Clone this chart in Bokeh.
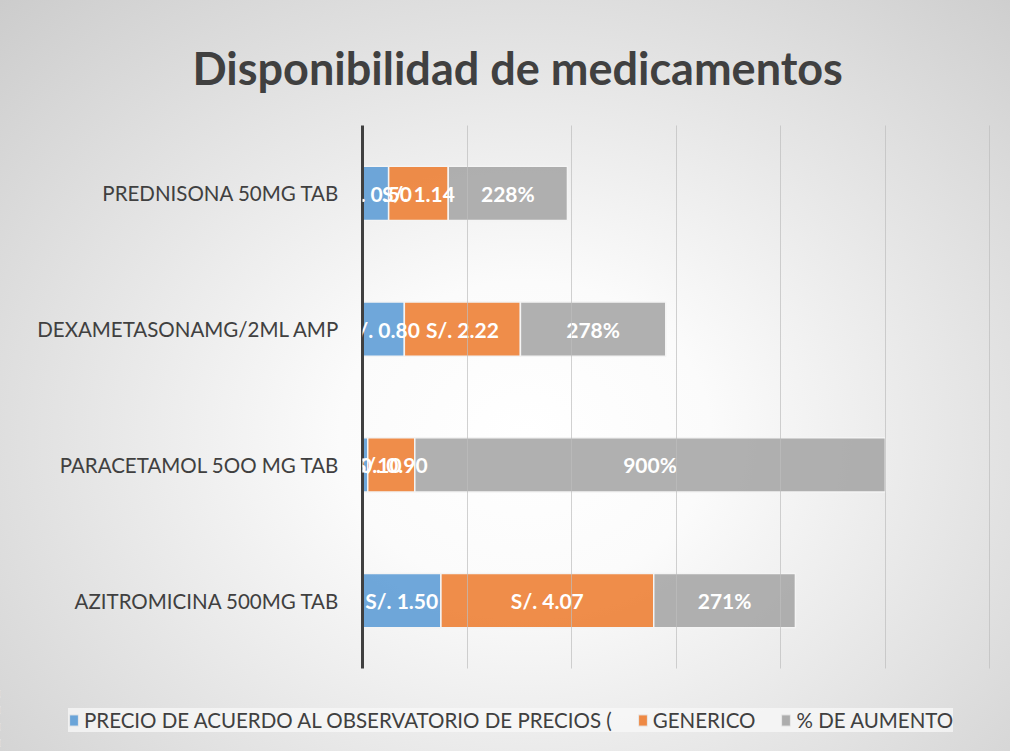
from bokeh.plotting import figure
from bokeh.layouts import column
from bokeh.models import (ColumnDataSource, Range1d, FactorRange, FixedTicker,
                          LabelSet, Legend, LegendItem)
from bokeh.core.properties import value
from bokeh.embed import file_html
from bokeh.resources import INLINE

# ---- data (y range lists bottom to top) ----
categories = ["AZITROMICINA 500MG TAB", "PARACETAMOL 5OO MG TAB",
              "DEXAMETASONAMG/2ML AMP", "PREDNISONA 50MG TAB"]
precio = [1.50, 0.10, 0.80, 0.50]
generico = [4.07, 0.90, 2.22, 1.14]
aumento_pct = [271, 900, 278, 228]
series_names = ["PRECIO DE ACUERDO AL OBSERVATORIO DE PRECIOS (", "GENERICO", "% DE AUMENTO"]
colors = ["#5b9bd5", "#ed7d31", "#a5a5a5"]

aumento = [v / 100.0 for v in aumento_pct]
src = ColumnDataSource(dict(
    cat=categories,
    precio=precio,
    generico=generico,
    aumento=aumento,
    x_p=[p / 2 for p in precio],
    x_g=[p + g / 2 for p, g in zip(precio, generico)],
    x_a=[p + g + a / 2 for p, g, a in zip(precio, generico, aumento)],
    t_p=[f"S/. {v:.2f}" for v in precio],
    t_g=[f"S/. {v:.2f}" for v in generico],
    t_a=[f"{v}%" for v in aumento_pct],
))

FONT = "Lato"
TXT = "#404040"
W = 1010
STACK = ["precio", "generico", "aumento"]

p = figure(width=W, height=685, output_backend="svg", toolbar_location=None,
           x_range=Range1d(0, 12.03), y_range=FactorRange(*categories, range_padding=0),
           title="Disponibilidad de medicamentos",
           min_border_left=362, min_border_right=19, min_border_top=125, min_border_bottom=17)
p.frame_align = False
p.background_fill_color = None
p.border_fill_color = None
p.outline_line_color = None

p.title.text_font = FONT
p.title.text_font_size = "45px"
p.title.text_font_style = "bold"
p.title.text_color = TXT
p.title.align = "left"
p.title.offset = -170
p.title.standoff = 61

renderers = p.hbar_stack(STACK, y="cat", height=0.4,
                         color=colors, fill_alpha=0.88, line_color="#f4f4f4",
                         line_width=1.5, source=src)

for xcol, tcol in (("x_p", "t_p"), ("x_g", "t_g"), ("x_a", "t_a")):
    p.add_layout(LabelSet(x=xcol, y="cat", text=tcol, source=src,
                          text_align="center", text_baseline="middle",
                          text_color="white", text_font=value(FONT),
                          text_font_style="bold", text_font_size="21px"))

p.xaxis.visible = False
p.xgrid[0].ticker = FixedTicker(ticks=[2, 4, 6, 8, 10, 12])
p.xgrid.grid_line_color = "#bdbdbd"
p.xgrid.grid_line_width = 1
p.xgrid.level = "overlay"
p.xgrid.grid_line_alpha = 0.7
p.ygrid.visible = False

p.yaxis.axis_line_color = "#404040"
p.yaxis.axis_line_width = 3
p.yaxis.major_tick_line_color = None
p.yaxis.minor_tick_line_color = None
p.yaxis.major_label_text_font = FONT
p.yaxis.major_label_text_font_size = "20.5px"
p.yaxis.major_label_text_color = TXT
p.yaxis.major_label_standoff = 17

# ---- legend strip (separate figure, frame not aligned with the chart) ----
# the same stacked series are drawn here outside the visible x range, only to feed the legend
lf = figure(width=W, height=66, output_backend="svg", toolbar_location=None,
            x_range=Range1d(100, 101), y_range=FactorRange(*categories),
            min_border=0, min_border_left=0, min_border_right=0,
            min_border_top=0, min_border_bottom=0)
lf.frame_align = False
lf.axis.visible = False
lf.grid.visible = False
lf.background_fill_color = None
lf.border_fill_color = None
lf.outline_line_color = None
proxies = lf.hbar_stack(STACK, y="cat", height=0.4, color=colors, fill_alpha=0.9,
                        line_color="#e8e8e8", line_width=1, source=src)
legend = Legend(items=[LegendItem(label=n, renderers=[r]) for n, r in zip(series_names, proxies)],
                orientation="horizontal", location=(68, 19),
                label_text_font=FONT, label_text_font_size="20.5px", label_text_color=TXT,
                glyph_width=11, glyph_height=14, label_standoff=5, spacing=25,
                background_fill_color="#f8f8f8", background_fill_alpha=0.75,
                border_line_color=None, padding=15, margin=0)
lf.add_layout(legend, "center")

layout = column(p, lf, spacing=0)
layout.styles = {"background-image":
                 "radial-gradient(ellipse farthest-corner at 52% 58%, #ffffff 0%, #fbfbfb 25%, #cccccc 100%)"}

open("out.html", "w").write(file_html(layout, INLINE))
